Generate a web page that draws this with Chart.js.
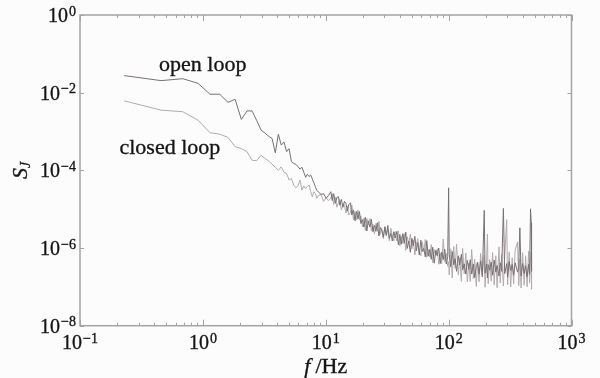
<!DOCTYPE html>
<html><head><meta charset="utf-8">
<script src="https://cdn.jsdelivr.net/npm/chart.js@4.4.0/dist/chart.umd.min.js"></script>
<style>html,body{margin:0;padding:0;background:#fcfcfc;}#wrap{width:600px;height:378px;position:relative;}</style>
</head><body><div id="wrap"><canvas id="c" width="600" height="378"></canvas></div>
<script>
// Frequencies (Hz) and log10(S_J) values
const freqLowHz = [0.229,0.457,0.686,0.914,1.143,1.372,1.600,1.829,2.057,2.286,2.515,2.743,2.972,3.200,3.429,3.658,3.886,4.115,4.343,4.572,4.800,5.029,5.258,5.486,5.715,5.944,6.172,6.401,6.629,6.858,7.087,7.315,7.544,7.772,8.001,8.230,8.458,8.687,9.144,9.601,10.06,10.52];
const openLowLog = [-1.56,-1.69,-1.64,-1.76,-2.04,-2.04,-2.25,-2.17,-2.69,-2.47,-2.47,-2.72,-2.96,-3.04,-3.12,-3.18,-3.55,-3.07,-3.35,-3.27,-3.52,-3.44,-3.78,-3.82,-3.85,-3.90,-3.97,-3.92,-4.05,-4.18,-4.10,-4.16,-4.12,-4.22,-4.32,-4.42,-4.52,-4.55,-4.62,-4.60,-4.72,-4.65];
const closedLowLog = [-2.21,-2.45,-2.49,-2.71,-3.03,-3.07,-3.15,-3.39,-3.44,-3.52,-3.74,-3.75,-3.61,-3.69,-3.76,-3.84,-3.92,-4.00,-3.91,-4.05,-4.08,-4.25,-4.21,-4.38,-4.45,-4.40,-4.25,-4.51,-4.40,-4.47,-4.42,-4.38,-4.55,-4.68,-4.55,-4.60,-4.72,-4.65,-4.62,-4.80,-4.70,-4.78];

const freqHighHz = [11.0,11.3,11.6,12.0,12.3,12.7,13.0,13.4,13.8,14.2,14.6,15.0,15.4,15.9,16.3,16.8,17.3,17.8,18.3,18.8,19.3,19.9,20.4,21.0,21.6,22.2,22.9,23.5,24.2,24.9,25.6,26.3,27.1,27.8,28.6,29.4,30.3,31.1,32.0,32.9,33.9,34.8,35.8,36.8,37.9,39.0,40.1,41.2,42.4,43.6,44.8,46.1,47.4,48.8,50.2,51.6,53.1,54.6,56.1,57.7,59.4,61.1,62.8,64.6,66.4,68.3,70.2,72.2,74.3,76.4,78.6,80.8,83.1,85.5,87.9,90.4,93.0,95.6,98.3,100,101.1,104,107,110,113,116,120,123,127,130,134,138,142,146,150,154,159,163,168,172,177,182,188,195,198,204,207,210,216,222,228,235,242,248,257,263,270,279,286,297,302,311,320,329,338,348,364,372,380,389,400,412,423,435,448,456,464,470,473];
const openHighLog = [-4.55,-4.78,-4.60,-4.85,-4.70,-4.68,-4.90,-4.75,-4.95,-4.80,-4.85,-5.05,-4.88,
-4.84,-5.15,-5.02,-5.30,-5.06,-5.25,-5.06,-5.37,-5.27,-5.46,-5.21,-5.56,-5.30,-5.46,-5.26,-5.58,-5.42,-5.57,-5.35,-5.69,-5.47,-5.54,-5.72,-5.46,-5.68,-5.42,-5.75,-5.62,-5.82,-5.58,-5.74,-5.57,-5.92,
-5.65,-5.90,-5.63,-5.88,-5.59,-6.01,-5.82,-6.11,-5.75,-5.94,-5.70,-6.07,-5.86,-6.18,-5.80,-6.09,-6.01,-6.23,-5.81,-6.21,-6.04,-6.29,-5.98,-6.39,-6.06,-6.20,-6.00,-6.40,-6.10,-6.30,-6.03,-6.41,-6.22,
-4.45,
-6.16,-6.48,-6.09,-6.43,-6.28,-6.60,-6.20,-6.44,-6.16,-6.56,-6.41,-6.67,-6.32,-6.55,-6.30,-6.67,-6.41,-6.76,-6.48,-6.36,-6.67,-6.33,-6.74,
-5.03,-6.65,-6.41,-6.77,-6.43,-6.57,-6.36,-6.70,-6.31,-6.62,-6.45,-6.72,-6.38,-6.60,-4.98,-6.66,-6.40,-6.75,-6.35,-6.58,-6.42,-6.70,-6.38,-6.62,-6.48,-5.48,-6.72,-6.40,-6.66,-6.45,-6.74,-6.42,-6.68,-4.99,-5.35,-6.60];
const closedHighLog = [-4.72,-4.60,-4.88,-4.70,-4.95,-4.82,-4.75,-5.02,-4.85,-4.90,-5.10,-4.92,-5.15,
-5.09,-4.89,-5.27,-5.06,-5.28,-5.02,-5.28,-5.17,-5.45,-5.23,-5.55,-5.24,-5.40,-5.24,-5.56,-5.39,-5.64,-5.37,-5.57,-5.31,-5.65,-5.50,-5.76,-5.44,-5.66,-5.52,-5.81,-5.49,-5.69,-5.82,-5.58,-5.82,-5.56,
-5.95,-5.70,-5.88,-5.63,-6.06,-5.71,-5.89,-5.64,-6.02,-5.79,-6.18,-5.90,-5.76,-6.08,-6.20,-5.84,-6.09,-5.78,-6.24,-6.03,-6.23,-5.91,-6.38,-6.04,-6.19,-6.02,-6.42,-6.13,-6.40,-5.77,-6.35,-6.14,-6.47,
-6.35,
-6.69,-6.02,-6.77,-5.96,-6.52,-5.90,-6.69,-6.25,-6.86,-6.01,-6.66,-6.13,-6.87,-6.39,-6.86,-6.04,-6.79,-6.29,-6.99,-6.36,-6.87,-6.14,-6.69,
-6.18,-7.01,-6.27,-5.64,-6.92,-6.30,-6.85,-6.12,-6.95,-6.20,-7.02,-5.97,-6.90,-6.15,-6.98,-6.22,-5.27,-6.95,-6.10,-7.00,-6.25,-6.92,-6.05,-5.84,-6.97,-6.28,-7.03,-6.12,-6.96,-6.20,-7.00,-6.08,-6.90,-6.25,-6.10,-7.06];

const xTickValues = [0.1, 1, 10, 100, 1000];
const xTickExponents = ['\u22121', '0', '1', '2', '3'];
const yTickValues = [1e-8, 1e-6, 1e-4, 1e-2, 1];
const yTickExponents = ['\u22128', '\u22126', '\u22124', '\u22122', '0'];
const seriesLabels = ['open loop', 'closed loop'];
const labelAnchors = [{x: 0.44, y: 0.036}, {x: 0.2096, y: 2.62e-4}];

function toPoints(f, logs) {
  const n = Math.min(f.length, logs.length), out = [];
  for (let i = 0; i < n; i++) out.push({x: f[i], y: Math.pow(10, logs[i])});
  return out;
}

const SERIF = '"Liberation Serif", "DejaVu Serif", serif';
const TXT = '#151515';
const FRAME = '#a3a3a3';

function txt(ctx, s, x, y) {
  ctx.fillText(s, x, y);
  ctx.strokeText(s, x, y);
}

function drawPow(ctx, exp, x, y, align) {
  ctx.font = '20px ' + SERIF;
  const wb = ctx.measureText('10').width;
  ctx.font = '14px ' + SERIF;
  const we = ctx.measureText(exp).width;
  const w = wb + 1 + we;
  let x0 = align === 'center' ? x - w / 2 : x - w;
  ctx.textAlign = 'left';
  ctx.textBaseline = 'alphabetic';
  ctx.font = '20px ' + SERIF;
  txt(ctx, '10', x0, y);
  ctx.font = '14px ' + SERIF;
  txt(ctx, exp, x0 + wb + 1, y - 6.5);
}

const decor = {
  id: 'decor',
  afterDatasetsDraw(chart) {
    const {ctx, chartArea: a, scales: {x, y}} = chart;
    ctx.save();
    ctx.strokeStyle = FRAME;
    ctx.lineWidth = 1.5;
    ctx.strokeRect(a.left, a.top, a.right - a.left, a.bottom - a.top);
    ctx.lineWidth = 1;
    ctx.beginPath();
    for (let d = 0; d < xTickValues.length; d++) {
      const base = xTickValues[d];
      const px = Math.round(x.getPixelForValue(base)) + 0.5;
      ctx.moveTo(px, a.bottom); ctx.lineTo(px, a.bottom - 6);
      ctx.moveTo(px, a.top); ctx.lineTo(px, a.top + 6);
      if (d < xTickValues.length - 1) {
        for (let m = 2; m <= 9; m++) {
          const p = Math.round(x.getPixelForValue(base * m)) + 0.5;
          ctx.moveTo(p, a.bottom); ctx.lineTo(p, a.bottom - 3);
          ctx.moveTo(p, a.top); ctx.lineTo(p, a.top + 3);
        }
      }
    }
    yTickValues.forEach(v => {
      const py = Math.round(y.getPixelForValue(v)) + 0.5;
      ctx.moveTo(a.left, py); ctx.lineTo(a.left + 4, py);
      ctx.moveTo(a.right, py); ctx.lineTo(a.right - 4, py);
    });
    ctx.stroke();

    ctx.fillStyle = TXT;
    ctx.strokeStyle = TXT;
    ctx.lineWidth = 0.35;
    xTickValues.forEach((v, i) => drawPow(ctx, xTickExponents[i], x.getPixelForValue(v), a.bottom + 23.5, 'center'));
    yTickValues.forEach((v, i) => drawPow(ctx, yTickExponents[i], a.left - 4, y.getPixelForValue(v) + 7, 'right'));

    // series labels
    ctx.font = '22px ' + SERIF;
    ctx.textAlign = 'left';
    ctx.textBaseline = 'alphabetic';
    labelAnchors.forEach((p, i) => txt(ctx, seriesLabels[i], x.getPixelForValue(p.x), y.getPixelForValue(p.y)));

    // x title: f /Hz
    ctx.font = 'italic 22px ' + SERIF;
    const wf = ctx.measureText('f').width;
    ctx.font = '22px ' + SERIF;
    const wh = ctx.measureText('/Hz').width;
    const tw = wf + 5 + wh;
    const cx = (a.left + a.right) / 2;
    let tx = cx - tw / 2;
    ctx.font = 'italic 22px ' + SERIF;
    txt(ctx, 'f', tx, 372.5);
    ctx.font = '22px ' + SERIF;
    txt(ctx, '/Hz', tx + wf + 5, 372.5);

    // y title: S_J
    ctx.translate(27, (a.top + a.bottom) / 2);
    ctx.rotate(-Math.PI / 2);
    ctx.font = 'italic 22px ' + SERIF;
    const ws = ctx.measureText('S').width;
    ctx.font = 'italic 14px ' + SERIF;
    const wj = ctx.measureText('J').width;
    const sx = -(ws + wj) / 2;
    ctx.font = 'italic 22px ' + SERIF;
    txt(ctx, 'S', sx, 0);
    ctx.font = 'italic 14px ' + SERIF;
    txt(ctx, 'J', sx + ws, 3);
    ctx.restore();
  }
};

new Chart(document.getElementById('c'), {
  type: 'line',
  data: {
    datasets: [
      {label: seriesLabels[0], data: toPoints(freqLowHz, openLowLog).concat(toPoints(freqHighHz, openHighLog)),
       borderColor: '#777072', borderWidth: 1, pointRadius: 0, tension: 0, fill: false},
      {label: seriesLabels[1], data: toPoints(freqLowHz, closedLowLog).concat(toPoints(freqHighHz, closedHighLog)),
       borderColor: '#b2aaac', borderWidth: 1, pointRadius: 0, tension: 0, fill: false}
    ]
  },
  options: {
    responsive: false, animation: false, devicePixelRatio: 1,
    layout: {padding: {left: 0, right: 28.5, top: 15, bottom: 0}},
    plugins: {legend: {display: false}, tooltip: {enabled: false}},
    scales: {
      x: {type: 'logarithmic', min: 0.1, max: 1000,
          grid: {display: false, drawTicks: false}, border: {display: false}, ticks: {display: false},
          afterBuildTicks: s => { s.ticks = xTickValues.map(v => ({value: v})); },
          afterFit: s => { s.height = 52.3; }},
      y: {type: 'logarithmic', min: 1e-8, max: 1,
          grid: {display: false, drawTicks: false}, border: {display: false}, ticks: {display: false},
          afterBuildTicks: s => { s.ticks = yTickValues.map(v => ({value: v})); },
          afterFit: s => { s.width = 80; }}
    }
  },
  plugins: [decor]
});
</script></body></html>
